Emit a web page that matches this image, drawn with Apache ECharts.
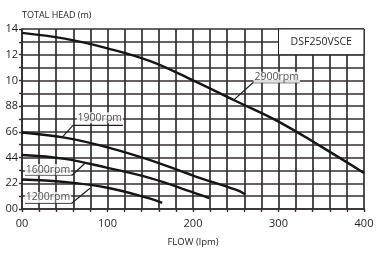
<!DOCTYPE html>
<html><head><meta charset="utf-8">
<script src="https://cdn.jsdelivr.net/npm/echarts@6/dist/echarts.min.js"></script>
<style>html,body{margin:0;padding:0;background:#fff}#c{width:380px;height:257px}</style>
</head><body><div id="c"></div>
<script>
// ---- data ----
const flow2900 = [0, 50, 100, 150, 200, 250, 300, 350, 400];
const head2900 = [13.7, 13.25, 12.5, 11.5, 10.0, 8.4, 6.8, 4.85, 2.8];
const flow1900 = [0, 50, 100, 150, 200, 250, 261];
const head1900 = [5.95, 5.55, 4.8, 3.8, 2.6, 1.5, 1.15];
const flow1600 = [0, 50, 100, 150, 200, 219];
const head1600 = [4.2, 3.9, 3.2, 2.4, 1.3, 0.85];
const flow1200 = [0, 50, 100, 150, 164];
const head1200 = [2.3, 2.1, 1.65, 0.8, 0.48];

const curveNames = ['2900rpm', '1900rpm', '1600rpm', '1200rpm'];
// label annotation: text centre, underline, leader end (data units)
const labelCenters = [[298, 10.25], [91, 7.1], [30.4, 3.05], [30.4, 0.9]];
const leaderPaths = [
  [[246.8, 8.43], [270, 9.82], [325, 9.82]],
  [[46.8, 5.57], [59.6, 6.5], [118, 6.5]],
  [[3.5, 2.63], [58.5, 2.63], [73.7, 3.56]],
  [[3.5, 0.46], [58.5, 0.46], [79.5, 1.62]]
];
const modelName = 'DSF250VSCE';
const modelBox = [[300, 14], [400, 12]];

const xTickLabels = {0: '00', 100: '100', 200: '200', 300: '300', 400: '400'};
const yTickLabels = {0: '00', 2: '22', 4: '44', 6: '66', 8: '88', 10: '10', 12: '12', 14: '14'};

const xTitle = 'FLOW (lpm)';
const yTitle = 'TOTAL HEAD (m)';

// ---- chart ----
const ink = '#231f20';
const gridCol = '#352d2d';
const font = 'Open Sans';
const zip = (a, b) => a.map((v, i) => [v, b[i]]);
const curves = [zip(flow2900, head2900), zip(flow1900, head1900), zip(flow1600, head1600), zip(flow1200, head1200)];

const series = [];
curves.forEach((d, i) => {
  series.push({
    type: 'line', data: d, smooth: 0.4, symbol: 'none', z: 3,
    lineStyle: {color: '#151515', width: 2.4}
  });
});
leaderPaths.forEach((p) => {
  series.push({
    type: 'line', data: p, symbol: 'none', z: 4,
    lineStyle: {color: ink, width: 1.2}
  });
});
series.push({
  type: 'scatter', symbolSize: 0, z: 5,
  data: labelCenters.map((c, i) => ({value: c, name: curveNames[i]})),
  label: {
    show: true, position: 'inside', formatter: (p) => p.name,
    color: ink, fontFamily: font, fontSize: 10.5,
    backgroundColor: '#fff', padding: [0, 1]
  }
});
series.push({
  type: 'line', data: [], z: 2,
  markArea: {
    silent: true,
    itemStyle: {color: '#fff', borderColor: ink, borderWidth: 1},
    label: {show: true, position: 'inside', color: ink, fontFamily: font, fontSize: 10.5},
    data: [[{coord: modelBox[0], name: modelName}, {coord: modelBox[1]}]]
  }
});

const chart = echarts.init(document.getElementById('c'), null, {renderer: 'canvas'});
chart.setOption({
  animation: false,
  backgroundColor: '#fff',
  grid: {left: 22, right: 16, top: 29, bottom: 48},
  xAxis: {
    type: 'value', min: 0, max: 400, interval: 20,
    name: xTitle, nameLocation: 'middle', nameGap: 28,
    nameTextStyle: {color: ink, fontFamily: font, fontSize: 9.5},
    axisLine: {lineStyle: {color: gridCol, width: 1.7}},
    axisTick: {show: true, length: 3, lineStyle: {color: gridCol, width: 1.4}},
    splitLine: {show: true, lineStyle: {color: gridCol, width: 1.7}},
    axisLabel: {color: ink, fontFamily: font, fontSize: 11, margin: 9,
      formatter: (v) => (xTickLabels[v] !== undefined ? xTickLabels[v] : '')}
  },
  yAxis: {
    type: 'value', min: 0, max: 14, interval: 1,
    name: yTitle, nameLocation: 'end', nameGap: 9,
    nameTextStyle: {color: ink, fontFamily: font, fontSize: 9, align: 'left'},
    axisLine: {show: true, lineStyle: {color: gridCol, width: 1.7}},
    axisTick: {show: true, length: 3, lineStyle: {color: gridCol, width: 1.4}},
    splitLine: {show: true, lineStyle: {color: gridCol, width: 1.7}},
    axisLabel: {color: ink, fontFamily: font, fontSize: 11, margin: 4,
      formatter: (v) => (yTickLabels[v] !== undefined ? yTickLabels[v] : '')}
  },
  series: series
});
</script></body></html>
